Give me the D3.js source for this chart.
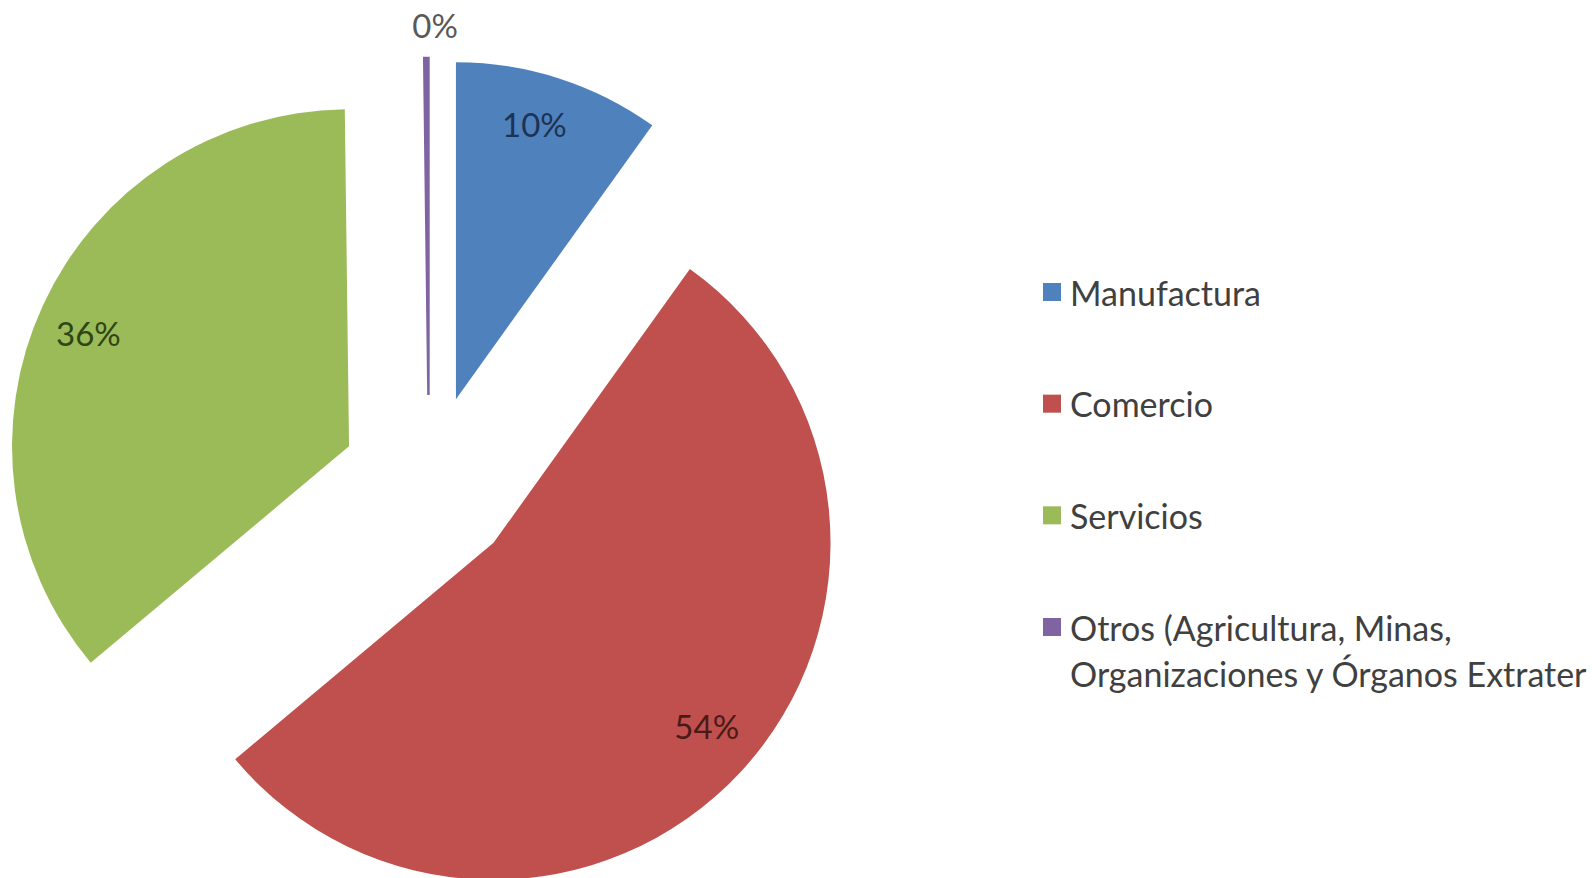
<!DOCTYPE html>
<html>
<head>
<meta charset="utf-8">
<script src="https://cdn.jsdelivr.net/npm/d3@7"></script>
<style>
  html, body { margin: 0; padding: 0; background: #fff; overflow: hidden; }
  #chart { width: 1592px; height: 878px; }
  text { font-family: Lato, "Open Sans", sans-serif; }
</style>
</head>
<body>
<div id="chart"></div>
<script>

// sectors, in drawing order (clockwise from 12 o'clock)
const sectors = ["Manufactura", "Comercio", "Servicios", "Otros"]
const shares = [9.9, 54.0, 35.9, 0.2]
const legendLines = [
    ["Manufactura"],
    ["Comercio"],
    ["Servicios"],
    ["Otros (Agricultura, Minas,", "Organizaciones y Órganos Extrater"]
]
const colors = ["#4f81bd", "#c0504d", "#9bbb59", "#8064a2"]
const labelColors = ["#1c3355", "#4a1a18", "#2f4514", "#595959"]

width = 1592
height = 878

const cx = 429, cy = 483
const radius = 337
const explode = 88

let svg = d3.select("#chart")
.append("svg")
.attr("width", width)
.attr("height", height)

const pie = d3.pie().sort(null).value(d => d)
const arcs = pie(shares)
const total = d3.sum(shares)

const arc = d3.arc().innerRadius(0).outerRadius(radius)

// offset of one slice along its middle angle
function shift(d, r, da) {
    const a = (d.startAngle + d.endAngle) / 2 + (da || 0)
    return [r * Math.sin(a), -r * Math.cos(a)]
}

const pieg = svg.append("g")
    .attr("transform", `translate(${cx},${cy})`)

const slice = pieg.selectAll("g.slice")
    .data(arcs)
    .join("g")
    .attr("class", "slice")
    .attr("transform", d => {
        const [x, y] = shift(d, explode)
        return `translate(${x},${y})`
    })

slice.append("path")
    .attr("d", arc)
    .attr("fill", (d, i) => colors[i])
    .attr("stroke", (d, i) => colors[i])
    .attr("stroke-width", d => (d.endAngle - d.startAngle) < 0.05 ? 2.5 : 0)

slice.append("text")
    .attr("transform", d => {
        const small = (d.endAngle - d.startAngle) < 0.05
        const [x, y] = small ? shift(d, radius + 30) : shift(d, 283, -0.03)
        return `translate(${x + (small ? 9 : 0)},${y - 3})`
    })
    .attr("text-anchor", "middle")
    .attr("dominant-baseline", "central")
    .attr("font-size", 33)
    .attr("fill", (d, i) => labelColors[i])
    .text(d => Math.round(d.value / total * 100) + "%")

// legend
const legend = svg.append("g")
    .attr("transform", "translate(1043,0)")

const rowY = d3.scalePoint()
    .domain(sectors)
    .range([292, 627])

const item = legend.selectAll("g.item")
    .data(sectors)
    .join("g")
    .attr("class", "item")
    .attr("transform", d => `translate(0,${rowY(d)})`)

item.append("rect")
    .attr("x", 0)
    .attr("y", -9)
    .attr("width", 18)
    .attr("height", 18)
    .attr("fill", (d, i) => colors[i])

item.append("text")
    .attr("x", 27)
    .attr("font-size", 34)
    .attr("fill", "#404040")
    .selectAll("tspan")
    .data((d, i) => legendLines[i])
    .join("tspan")
    .attr("x", 27)
    .attr("y", (d, j) => j * 46)
    .attr("dominant-baseline", "central")
    .text(d => d)

</script>
</body>
</html>
